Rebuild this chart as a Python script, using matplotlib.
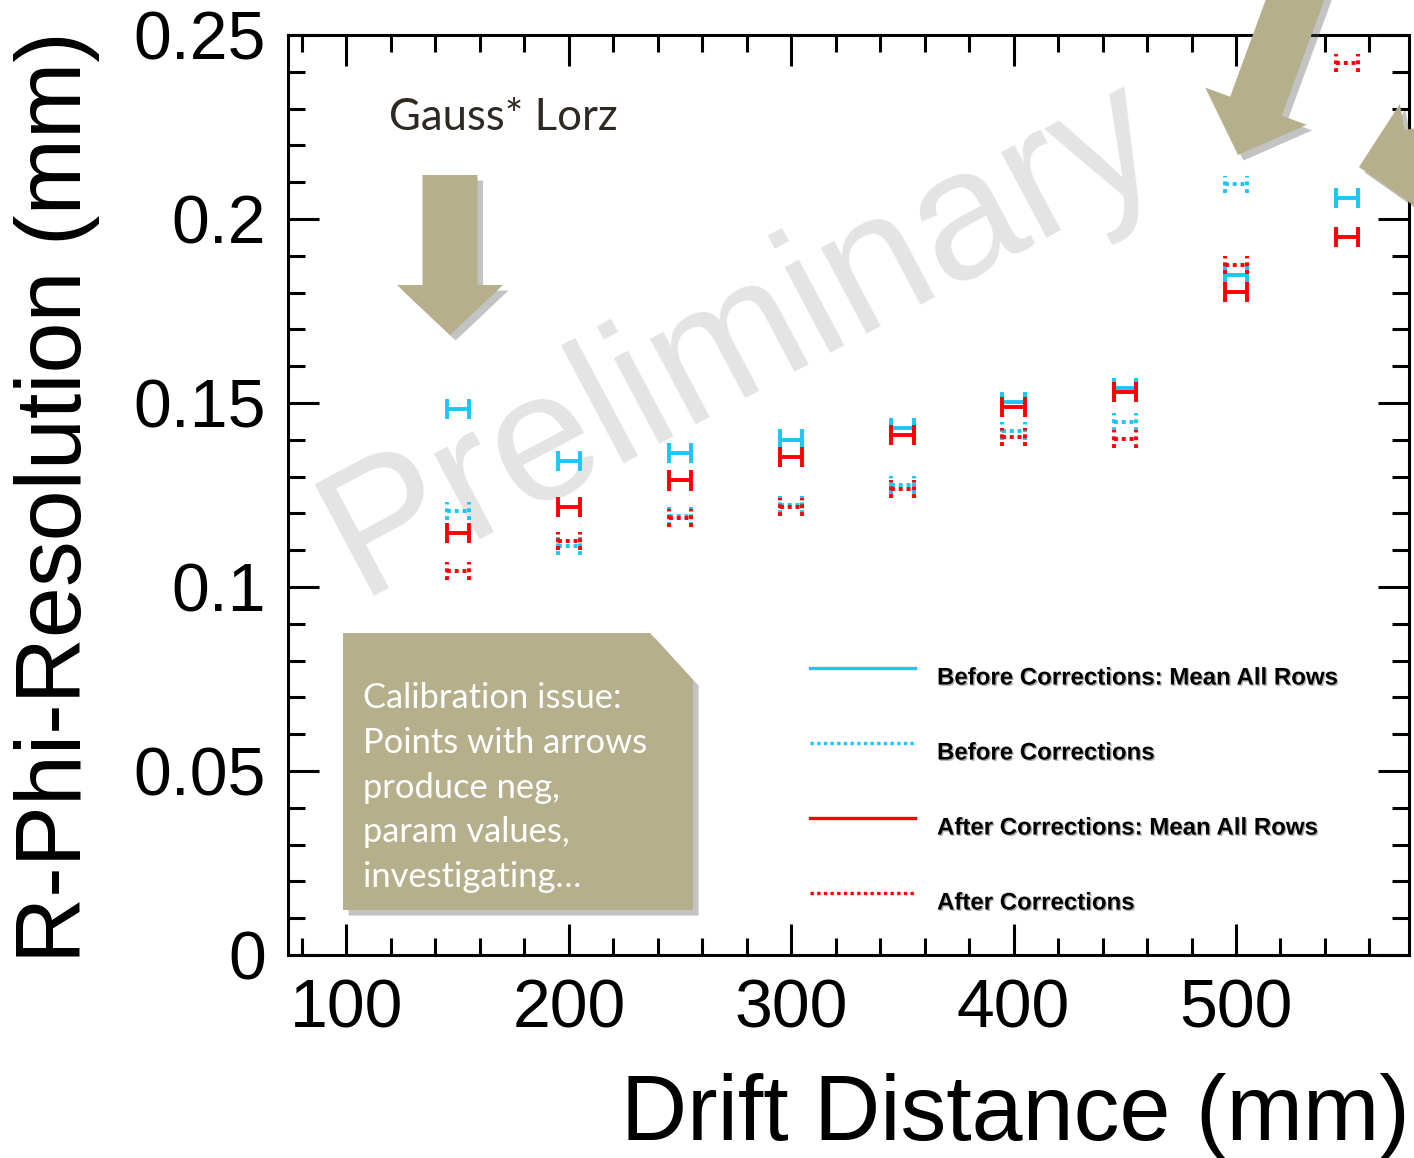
import numpy as np
import matplotlib
matplotlib.use('Agg')
import matplotlib.pyplot as plt
import matplotlib.patheffects as pe
from matplotlib.patches import Polygon
from matplotlib.ticker import MultipleLocator, FuncFormatter

plt.rcParams['font.family'] = ['Liberation Sans', 'DejaVu Sans']

# drift distance (mm)
drift = np.array([150, 200, 250, 300, 350, 400, 450, 500, 550])
# resolution (mm)
before_mean = np.array([0.1484, 0.1342, 0.1364, 0.1400, 0.1432, 0.1503, 0.1541, 0.1848, 0.2057])
before_mean_err = np.array([0.0028, 0.0028, 0.0028, 0.0028, 0.0028, 0.0028, 0.0028, 0.0028, 0.0028])
before = np.array([0.1207, 0.1112, 0.1192, 0.1223, 0.1277, 0.1424, 0.1448, 0.2095, np.nan])
before_err = np.array([0.0025, 0.0025, 0.0025, 0.0025, 0.0025, 0.0025, 0.0025, 0.0023, 0.0025])
after_mean = np.array([0.1147, 0.1217, 0.1290, 0.1353, 0.1413, 0.1489, 0.1530, 0.1802, 0.1951])
after_mean_err = np.array([0.0028, 0.0028, 0.0028, 0.0028, 0.0028, 0.0028, 0.0028, 0.0028, 0.0028])
after = np.array([0.1043, 0.1125, 0.1188, 0.1217, 0.1266, 0.1408, 0.1402, 0.1875, 0.2424])
after_err = np.array([0.0025, 0.0025, 0.0025, 0.0025, 0.0025, 0.0025, 0.0025, 0.0025, 0.0025])
half_bin = 5

labels = ['Before Corrections: Mean All Rows', 'Before Corrections',
          'After Corrections: Mean All Rows', 'After Corrections']

cyan = '#1ac6f5'
red = '#ff0000'
tan = '#b5af8c'
dots = (0, (1, 1))

W, H = 1414, 1158
fig = plt.figure(figsize=(W / 100, H / 100), dpi=100)
ax = fig.add_axes([288 / W, 1 - 955 / H, (1409 - 288) / W, (955 - 35) / H])


def draw_points(y, yerr, color, ls):
    ax.hlines(y, drift - half_bin, drift + half_bin, color=color, lw=2.8, linestyles=ls, zorder=3)
    ax.vlines(drift - half_bin, y - yerr, y + yerr, color=color, lw=2.8, linestyles=ls, zorder=3)
    ax.vlines(drift + half_bin, y - yerr, y + yerr, color=color, lw=2.8, linestyles=ls, zorder=3)


draw_points(before_mean, before_mean_err, cyan, 'solid')
draw_points(before, before_err, cyan, dots)
draw_points(after_mean, after_mean_err, red, 'solid')
draw_points(after, after_err, red, dots)

ax.set_xlim(73.7, 577.8)
ax.set_ylim(0, 0.25)
ax.xaxis.set_major_locator(MultipleLocator(100))
ax.xaxis.set_minor_locator(MultipleLocator(20))
ax.yaxis.set_major_locator(MultipleLocator(0.05))
ax.yaxis.set_minor_locator(MultipleLocator(0.01))
ax.yaxis.set_major_formatter(FuncFormatter(lambda v, p: '%g' % round(v, 3)))
ax.tick_params(which='both', direction='in', top=True, right=True, width=2.2, labelsize=49, pad=16)
ax.tick_params(which='major', length=22)
ax.tick_params(which='minor', length=12)
for s in ax.spines.values():
    s.set_linewidth(2.2)

# watermark
ax.text((742 - 288) / 1121, (955 - 338) / 920, 'Preliminary', transform=ax.transAxes,
        fontsize=132, color='#e4e4e4', rotation=28, ha='center', va='center', zorder=0)

fig.text(57 / W, 1 - 497 / H, 'R-Phi-Resolution (mm)', rotation=90, fontsize=66,
         ha='center', va='center')
fig.text(1410 / W, 1 - 1140 / H, 'Drift Distance (mm)', fontsize=66, ha='right', va='baseline')

# legend, drawn by hand in ROOT style
leg_y = [668, 743, 818, 893]
leg_c = [cyan, cyan, red, red]
leg_ls = ['-', dots, '-', dots]
for yy, c, ls, lab in zip(leg_y, leg_c, leg_ls, labels):
    fig.add_artist(plt.Line2D([810 / W, 915 / W], [1 - yy / H, 1 - yy / H], color=c, lw=2.4, ls=ls))
    fig.text(937 / W, 1 - (yy + 10) / H, lab, fontsize=17.3, fontweight='bold', va='center',
             path_effects=[pe.withSimplePatchShadow(offset=(1, -1), alpha=0.3)])

shadow = [pe.SimplePatchShadow(offset=(4, -4), shadow_rgbFace='#555555', alpha=0.35), pe.Normal()]


def to_fig(pts):
    pts = np.asarray(pts, dtype=float)
    return np.column_stack([pts[:, 0] / W, 1 - pts[:, 1] / H])


def arrow(tip, back, total, shaft_w, head_w, head_len):
    tip = np.array(tip, dtype=float)
    d = np.array(back, dtype=float)
    d = d / np.hypot(*d)
    p = np.array([-d[1], d[0]])
    base = tip + d * head_len
    tail = tip + d * total
    pts = [tip, base + p * head_w / 2, base + p * shaft_w / 2, tail + p * shaft_w / 2,
           tail - p * shaft_w / 2, base - p * shaft_w / 2, base - p * head_w / 2]
    fig.add_artist(Polygon(to_fig(pts), closed=True, facecolor=tan, edgecolor='none',
                           transform=fig.transFigure, path_effects=shadow, zorder=5))


arrow((450, 335), (0, -1), 160, 55, 106, 50)
arrow((1238, 155), (18, -49), 240, 55, 108, 52)
arrow((1359, 167), (0.98, -0.19), 200, 55, 108, 52)

fig.text(389 / W, 1 - 130 / H, 'Gauss* Lorz', fontsize=31.5, color='#2e2a22',
         family=['Lato', 'DejaVu Sans'], va='baseline')

box = [(343, 633), (650, 633), (693, 680), (693, 910), (343, 910)]
fig.add_artist(Polygon(to_fig(box), closed=True, facecolor=tan, edgecolor='none',
                       transform=fig.transFigure, path_effects=shadow, zorder=5))
note = ['Calibration issue:', 'Points with arrows', 'produce neg,', 'param values,', 'investigating…']
for i, line in enumerate(note):
    fig.text(363 / W, 1 - (708 + 44.75 * i) / H, line, fontsize=24.8, color='white',
             family=['Lato', 'DejaVu Sans'], va='baseline', zorder=6)

fig.savefig('out.png', dpi=100)
